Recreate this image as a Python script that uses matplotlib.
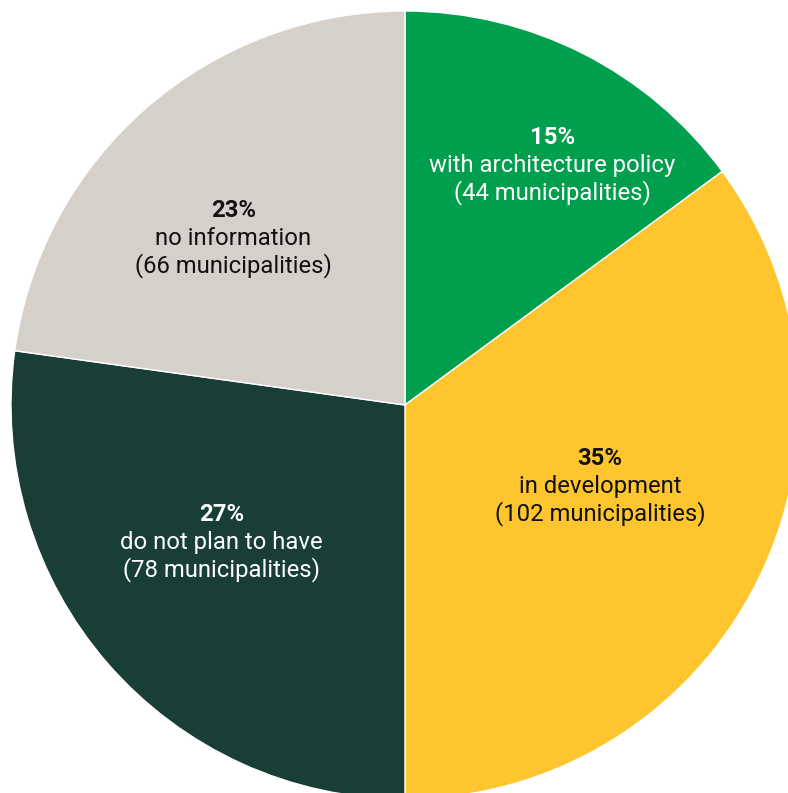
import numpy as np
import matplotlib.pyplot as plt

# data
categories = ['with architecture policy', 'in development', 'do not plan to have', 'no information']
counts = [44, 102, 78, 66]
shares = [14.9, 35.1, 27.2, 22.8]   # slice sizes as drawn (%)
percents = ['15%', '35%', '27%', '23%']
colors = ['#009F4D', '#FEC52E', '#183E36', '#D5D0CA']
text_colors = ['white', '#111111', 'white', '#111111']

# label placement (fraction of radius, angle shift in degrees)
label_r = [0.714, 0.536, 0.582, 0.608]
label_shift = [-4.7, 4.2, -4.3, 4.8]

W, H = 788, 793
fig = plt.figure(figsize=(W / 100, H / 100), dpi=100)
ax = fig.add_axes([0, 0, 1, 1])

cx, cy, R = 405, H - 405, 394
wedges, _ = ax.pie(shares, colors=colors, startangle=90, counterclock=False,
                   center=(cx, cy), radius=R,
                   wedgeprops=dict(edgecolor='white', linewidth=1.0))
ax.set_xlim(0, W)
ax.set_ylim(0, H)
ax.set_aspect('equal')
ax.axis('off')

font = 'Roboto'
fs = 17.2
step = 27.5
for w, pct, cat, n, tc, fr, sh in zip(wedges, percents, categories, counts,
                                     text_colors, label_r, label_shift):
    ang = np.deg2rad((w.theta1 + w.theta2) / 2 + sh)
    x = cx + fr * R * np.cos(ang)
    y = cy + fr * R * np.sin(ang)
    ax.text(x, y + step, pct, ha='center', va='center', color=tc,
            fontsize=fs, fontweight='bold', family=font)
    ax.text(x, y, cat, ha='center', va='center', color=tc,
            fontsize=fs, family=font)
    ax.text(x, y - step, f'({n} municipalities)', ha='center', va='center',
            color=tc, fontsize=fs, family=font)

fig.savefig('out.png', dpi=100)
